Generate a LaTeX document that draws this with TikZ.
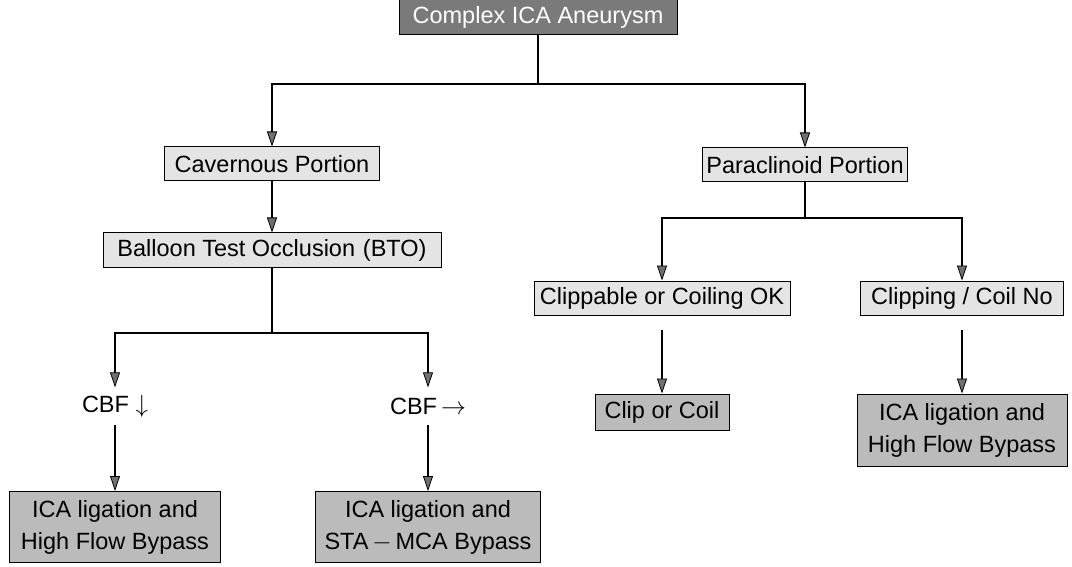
\documentclass[tikz,border=0pt]{standalone}
\usepackage{fontspec}
\setmainfont{Liberation Sans}
\usetikzlibrary{arrows.meta}
\definecolor{midfill}{HTML}{E4E4E4}
\definecolor{endfill}{HTML}{BBBBBB}
\definecolor{topfill}{HTML}{7A7A7A}
\definecolor{tipfill}{HTML}{707070}
\tikzset{
  box/.style={draw=black, line width=1pt, inner sep=2pt, align=center, font=\fontsize{23.5}{32}\selectfont, minimum height=34pt},
  midbox/.style={box, fill=midfill},
  endbox/.style={box, fill=endfill},
  topbox/.style={box, fill=topfill, text=white},
  plain/.style={inner sep=0pt, align=center, font=\fontsize{23.5}{32}\selectfont, minimum height=37pt},
  link/.style={line width=1.7pt, draw=black},
  arr/.style={link, -{Triangle[length=15pt,width=10pt,fill=tipfill,line width=0.8pt]}},
}
\begin{document}
\begin{tikzpicture}[x=1pt,y=-1pt]
\useasboundingbox (0,0) rectangle (1072,567);
% nodes
\node[topbox, minimum width=278pt, minimum height=35pt] (top) at (538,17.5) {Complex ICA Aneurysm};
\node[midbox, minimum width=215pt] (cav) at (272,164) {Cavernous Portion};
\node[midbox, minimum width=205pt] (para) at (805,165) {Paraclinoid Portion};
\node[midbox, minimum width=338pt] (bto) at (272,250) {Balloon Test Occlusion\,\,(BTO)};
\node[midbox, minimum width=256pt] (cok) at (662,298) {Clippable or Coiling OK};
\node[midbox, minimum width=203pt] (cno) at (962,298) {Clipping / Coil No};
\node[plain] (cbfd) at (115,406) {CBF $\downarrow$};
\node[plain] (cbfr) at (428,406) {CBF\,$\rightarrow$};
\node[endbox, minimum width=134pt, minimum height=36pt] (coil) at (662,412) {Clip or Coil};
\node[endbox, minimum width=210pt, minimum height=72pt] (ligr) at (962,430) {ICA ligation and\\High Flow Bypass};
\node[endbox, minimum width=211pt, minimum height=71pt] (ligl) at (115,527) {ICA ligation and\\High Flow Bypass};
\node[endbox, minimum width=225pt, minimum height=71pt] (ligm) at (428,527) {ICA ligation and\\STA\,$-$\,MCA Bypass};
% forks
\coordinate (f1) at (538,84);
\coordinate (f2) at (272,333);
\coordinate (f3) at (805,218);
% connectors
\draw[link] (top.south) -- (f1);
\draw[arr] (f1) -| (cav.north);
\draw[arr] (f1) -| (para.north);
\draw[arr] (cav.south) -- (bto.north);
\draw[link] (bto.south) -- (f2);
\draw[arr] (f2) -| (cbfd.north);
\draw[arr] (f2) -| (cbfr.north);
\draw[arr] (cbfd.south) -- (ligl.north);
\draw[arr] (cbfr.south) -- (ligm.north);
\draw[link] (para.south) -- (f3);
\draw[arr] (f3) -| (cok.north);
\draw[arr] (f3) -| (cno.north);
\draw[arr, shorten <=14pt] (cok.south) -- (coil.north);
\draw[arr, shorten <=14pt] (cno.south) -- (ligr.north);
\end{tikzpicture}
\end{document}
